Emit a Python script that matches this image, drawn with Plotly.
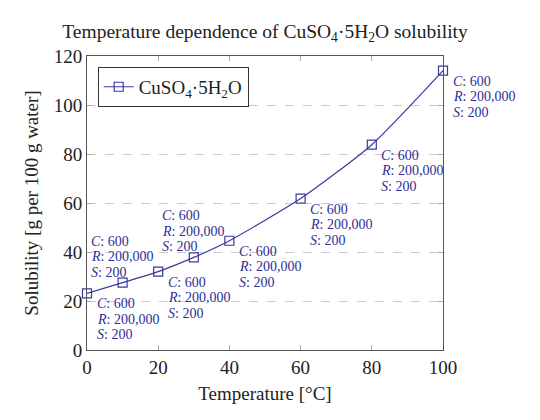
import plotly.graph_objects as go

# solubility of copper sulfate pentahydrate
temperature = [0, 10, 20, 30, 40, 60, 80, 100]
solubility = [23.1, 27.5, 32.0, 37.8, 44.6, 61.8, 83.8, 114.0]
label_c = [600, 600, 600, 600, 600, 600, 600, 600]
label_r = ["200,000"] * 8
label_s = [200, 200, 200, 200, 200, 200, 200, 200]
# where each label sits relative to its point: below-right or above
placement = ["se", "n", "se", "n", "se", "se", "se", "se"]

navy = "#3a3a9e"
txt_navy = "#2e2e96"
serif = "Liberation Serif"
ink = "#222222"

fig = go.Figure()
fig.add_trace(go.Scatter(
    x=temperature,
    y=solubility,
    mode="lines+markers",
    name="CuSO<sub>4</sub>·5H<sub>2</sub>O",
    line=dict(color=navy, width=1.2, shape="spline", smoothing=0.6),
    marker=dict(symbol="square-open", size=9, color=navy, line=dict(width=1.2)),
    cliponaxis=False,
))

# one annotation per text line so the line spacing matches
for t, s, c, r, sv, p in zip(temperature, solubility, label_c, label_r, label_s, placement):
    lines = [f"<i>C</i>: {c}", f"<i>R</i>: {r}", f"<i>S</i>: {sv}"]
    if p == "n":
        offsets, dx = [41.5, 26, 10.5], -34
    else:
        offsets, dx = [-10.5, -26, -41.5], 7.5
    for line, dy in zip(lines, offsets):
        fig.add_annotation(x=t, y=s, text=line, showarrow=False,
                           xanchor="left", yanchor="middle",
                           xshift=dx, yshift=dy)

fig.update_annotations(font=dict(family=serif, size=14, color=txt_navy))

# the page puts the figure 8px in from the top-left corner
fig.update_layout(
    title=dict(text="Temperature dependence of CuSO<sub>4</sub>·5H<sub>2</sub>O solubility",
               xref="paper", x=0.5, xanchor="center", y=0.944, yanchor="middle",
               font=dict(family=serif, size=19.5, color=ink)),
    font=dict(family=serif, size=19, color=ink),
    plot_bgcolor="white",
    paper_bgcolor="white",
    width=532,
    height=412,
    margin=dict(l=79, r=97, t=48, b=70),
    showlegend=True,
    legend=dict(x=0.03, y=0.963, xanchor="left", yanchor="top",
                bordercolor="#333", borderwidth=1, bgcolor="white",
                font=dict(family=serif, size=19, color=ink)),
)

fig.update_xaxes(
    range=[0, 100], tickvals=[0, 20, 40, 60, 80, 100],
    showline=True, linecolor="#555", linewidth=1, mirror="ticks",
    ticks="inside", ticklen=5, tickcolor="#aaa",
    tickfont=dict(family=serif, size=19, color=ink),
    showgrid=False, zeroline=False,
    title=dict(text="Temperature [°C]", standoff=9,
               font=dict(family=serif, size=19, color=ink)),
)
fig.update_yaxes(
    range=[0, 120], tickvals=[0, 20, 40, 60, 80, 100, 120],
    showline=True, linecolor="#555", linewidth=1, mirror="ticks",
    ticks="inside", ticklen=5, tickcolor="#aaa",
    tickfont=dict(family=serif, size=19, color=ink),
    showgrid=True, gridcolor="#cccccc", griddash="dash", gridwidth=1,
    zeroline=False,
    title=dict(text="Solubility [g per 100 g water]", standoff=10,
               font=dict(family=serif, size=19, color=ink)),
)

fig.write_html("out.html")
